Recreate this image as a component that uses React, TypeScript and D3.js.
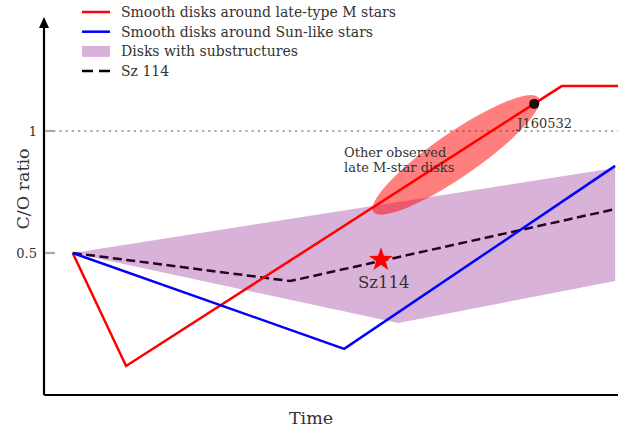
import React from "react";
import * as d3 from "d3";

// Time in arbitrary units (0..100), C/O ratio values
const redX = [5, 14.3, 90.2, 100];
const redY = [0.5, 0.037, 1.184, 1.184];
const blueX = [5, 52.3, 99.5];
const blueY = [0.5, 0.107, 0.857];
const szX = [5, 42.9, 99.5];
const szY = [0.5, 0.385, 0.68];
const bandUpperX = [5, 99.5];
const bandUpperY = [0.5, 0.848];
const bandLowerX = [5, 61.7, 99.5];
const bandLowerY = [0.5, 0.213, 0.385];
const ellipse = { cx: 71.8, cy: 0.902, rx: 17.5, ry: 0.09 }; // semi axes in data
const j160532 = { x: 85.4, y: 1.111, label: "J160532" };
const sz114 = { x: 58.7, y: 0.472, label: "Sz114" };
const yTicks = [0.5, 1];
const yTickLabels = ["0.5", "1"];
const legendItems = [
  { label: "Smooth disks around late-type M stars", kind: "line", color: "red" },
  { label: "Smooth disks around Sun-like stars", kind: "line", color: "blue" },
  { label: "Disks with substructures", kind: "patch", color: "purple" },
  { label: "Sz 114", kind: "dash", color: "black" },
];

const W = 618;
const H = 427;
const FONT = "'DejaVu Serif', serif";

function starPath(cx: number, cy: number, R: number, r: number) {
  const pts: [number, number][] = [];
  for (let i = 0; i < 10; i++) {
    const a = -Math.PI / 2 + (i * Math.PI) / 5;
    const rad = i % 2 === 0 ? R : r;
    pts.push([cx + rad * Math.cos(a), cy + rad * Math.sin(a)]);
  }
  return "M" + pts.map((p) => p.join(",")).join("L") + "Z";
}

export default function App() {
  const x = d3.scaleLinear().domain([0, 100]).range([44, 618]);
  const y = d3.scaleLinear().domain([-0.082, 1.463]).range([395, 18]);
  const line = d3
    .line<[number, number]>()
    .x((d) => x(d[0]))
    .y((d) => y(d[1]));
  const zip = (xs: number[], ys: number[]) => xs.map((v, i) => [v, ys[i]] as [number, number]);

  const upper = zip(bandUpperX, bandUpperY);
  const lower = zip(bandLowerX, bandLowerY);
  const bandPath = line([...upper, ...lower.slice().reverse()]) + "Z";

  const ecx = x(ellipse.cx);
  const ecy = y(ellipse.cy);
  const angle = -34.6;

  return (
    <svg width={W} height={H} style={{ position: "absolute", left: 0, top: 0 }} fontFamily={FONT}>
      <rect width={W} height={H} fill="white" />
      <line x1={x(1.6)} x2={W} y1={y(1)} y2={y(1)} stroke="#aaaaaa" strokeWidth={2.2} strokeDasharray="2.2,4" />
      <path d={line(zip(szX, szY))!} fill="none" stroke="black" strokeWidth={2.5} strokeDasharray="9,4.5" />
      <path d={bandPath} fill="purple" fillOpacity={0.3} stroke="none" />
      <ellipse
        cx={ecx}
        cy={ecy}
        rx={x(ellipse.rx) - x(0)}
        ry={y(0) - y(ellipse.ry)}
        transform={`rotate(${angle} ${ecx} ${ecy})`}
        fill="red"
        fillOpacity={0.5}
      />
      <path d={line(zip(redX, redY))!} fill="none" stroke="red" strokeWidth={2.5} />
      <path d={line(zip(blueX, blueY))!} fill="none" stroke="blue" strokeWidth={2.5} />
      <circle cx={x(j160532.x)} cy={y(j160532.y)} r={5} fill="#1a0a0a" />
      <text x={x(j160532.x) - 17} y={y(j160532.y) + 24} fontSize={13} fill="#333">
        {j160532.label}
      </text>
      <text x={344} y={157} fontSize={13} fill="#333">
        Other observed
      </text>
      <text x={344} y={172} fontSize={13} fill="#333">
        late M-star disks
      </text>
      <path d={starPath(x(sz114.x), y(sz114.y), 12.5, 5)} fill="red" />
      <text x={x(sz114.x) - 23} y={y(sz114.y) + 28} fontSize={16.5} fill="#333">
        {sz114.label}
      </text>
      <line x1={44} x2={618} y1={395} y2={395} stroke="black" strokeWidth={2.2} />
      <line x1={44} x2={44} y1={395} y2={24} stroke="black" strokeWidth={2.2} />
      <path d="M39,28 L44,17 L49,28 Z" fill="black" />
      {yTicks.map((t, i) => (
        <g key={t}>
          <line x1={45} x2={55} y1={y(t)} y2={y(t)} stroke="#aaaaaa" strokeWidth={2.2} />
          <text x={37} y={y(t)} dy="0.35em" textAnchor="end" fontSize={13} fill="#333">
            {yTickLabels[i]}
          </text>
        </g>
      ))}
      <text x={311} y={424} textAnchor="middle" fontSize={17.5} fill="#333">
        Time
      </text>
      <text transform={`translate(29,189) rotate(-90)`} textAnchor="middle" fontSize={17.5} fill="#333">
        C/O ratio
      </text>
      {legendItems.map((d, i) => {
        const ly = 12 + i * 19.7;
        return (
          <g key={d.label}>
            {d.kind === "line" && <line x1={82} x2={110} y1={ly} y2={ly} stroke={d.color} strokeWidth={2.5} />}
            {d.kind === "dash" && (
              <line x1={82} x2={110} y1={ly} y2={ly} stroke={d.color} strokeWidth={2.5} strokeDasharray="11,6" />
            )}
            {d.kind === "patch" && <rect x={82} y={ly - 5.5} width={28} height={11} fill={d.color} fillOpacity={0.3} />}
            <text x={121} y={ly} dy="0.35em" fontSize={14} fill="#333">
              {d.label}
            </text>
          </g>
        );
      })}
    </svg>
  );
}
